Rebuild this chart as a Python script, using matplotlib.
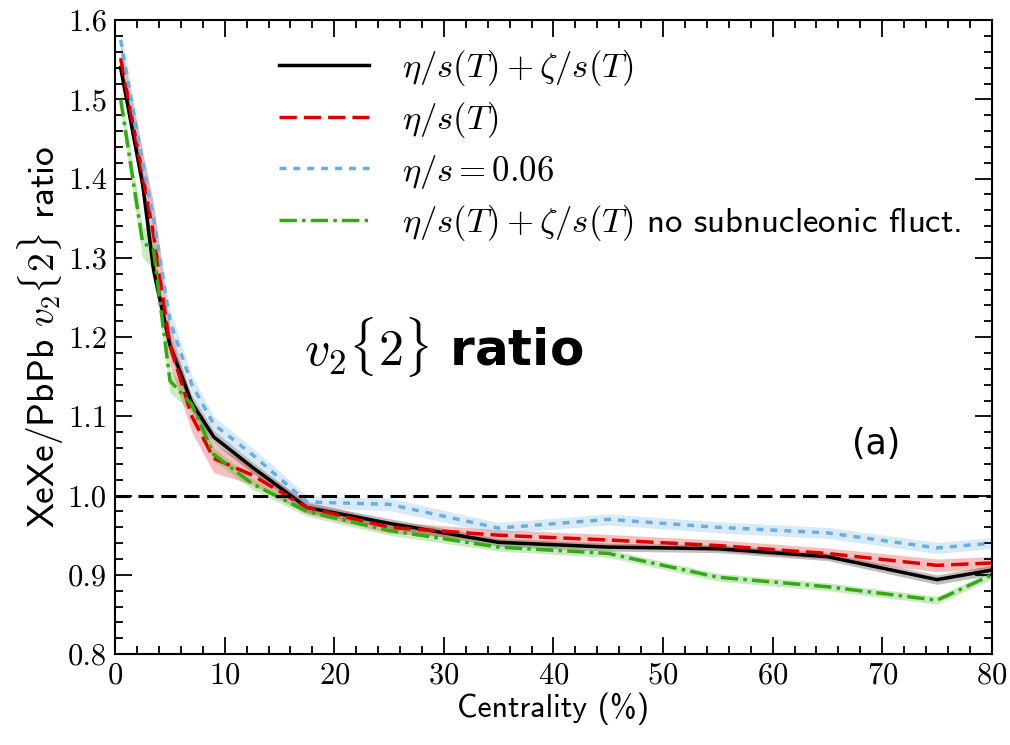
import matplotlib
matplotlib.use("Agg")
import matplotlib.pyplot as plt
import numpy as np

plt.rcParams['mathtext.fontset'] = 'cm'
plt.rcParams['axes.formatter.use_mathtext'] = True

# centrality (%)
cent = [0.5, 2.5, 3.5, 5, 7, 9, 12.5, 17.5, 25, 35, 45, 55, 65, 75, 80]

# XeXe/PbPb v2{2} ratio
full = [1.540, 1.394, 1.285, 1.190, 1.117, 1.074, 1.036, 0.985, 0.965, 0.941, 0.935, 0.933, 0.923, 0.894, 0.906]
full_err = [0.015, 0.015, 0.015, 0.012, 0.010, 0.008, 0.007, 0.006, 0.006, 0.005, 0.005, 0.005, 0.005, 0.006, 0.006]

shear_only = [1.552, 1.405, 1.330, 1.190, 1.100, 1.047, 1.026, 0.985, 0.960, 0.950, 0.944, 0.937, 0.927, 0.912, 0.915]
shear_only_err = [0.020, 0.030, 0.040, 0.025, 0.020, 0.018, 0.012, 0.008, 0.007, 0.007, 0.007, 0.007, 0.007, 0.008, 0.008]

const = [1.575, 1.420, 1.350, 1.220, 1.140, 1.090, 1.052, 0.992, 0.989, 0.959, 0.970, 0.960, 0.953, 0.934, 0.940]
const_err = [0.015, 0.015, 0.015, 0.015, 0.012, 0.010, 0.009, 0.008, 0.008, 0.007, 0.007, 0.007, 0.007, 0.007, 0.007]

nosub = [1.500, 1.320, 1.310, 1.145, 1.115, 1.052, 1.015, 0.980, 0.956, 0.935, 0.927, 0.897, 0.885, 0.868, 0.900]
nosub_err = [0.015, 0.020, 0.025, 0.015, 0.010, 0.008, 0.007, 0.006, 0.006, 0.005, 0.005, 0.005, 0.005, 0.005, 0.005]

series = [
    (full, full_err, 'black', '-', r'$\eta/s(T)+\zeta/s(T)$'),
    (shear_only, shear_only_err, '#dd0000', (0, (5, 2)), r'$\eta/s(T)$'),
    (const, const_err, '#6aaee0', (0, (2, 2)), r'$\eta/s=0.06$'),
    (nosub, nosub_err, '#33aa11', (0, (5, 1.5, 1, 1.5)),
     r'$\eta/s(T)+\zeta/s(T)$ no subnucleonic fluct.'),
]

fig = plt.figure(figsize=(10.1, 7.45), dpi=100)
ax = fig.add_axes([0.114, 0.122, 0.868, 0.851])

x = np.array(cent)
for vals, err, col, ls, lab in series:
    v = np.array(vals)
    e = np.array(err)
    ax.fill_between(x, v - e, v + e, color=col, alpha=0.25, lw=0)
    ax.plot(x, v, color=col, ls=ls, lw=2.5, label=lab)

ax.axhline(1.0, color='black', ls=(0, (5, 2.5)), lw=2.2)

ax.set_xlim(0, 80)
ax.set_ylim(0.8, 1.6)
ax.set_xticks(np.arange(0, 81, 10))
ax.set_xticks(np.arange(0, 81, 2), minor=True)
ax.set_yticks(np.arange(0.8, 1.61, 0.1))
ax.set_yticks(np.arange(0.8, 1.601, 0.02), minor=True)
ax.set_yticklabels([f"{t:.1f}" for t in np.arange(0.8, 1.61, 0.1)])
ax.tick_params(which='both', direction='in', top=True, right=True, width=1.3)
ax.tick_params(which='major', length=12, labelsize=22, pad=6)
ax.tick_params(which='minor', length=6)
for lbl in ax.get_xticklabels() + ax.get_yticklabels():
    lbl.set_family('cmr10')
for s in ax.spines.values():
    s.set_linewidth(1.5)

ax.set_xlabel('Centrality (%)', fontsize=23, family='cmss10', labelpad=2)
ax.set_ylabel(r'XeXe/PbPb $v_2\{2\}$ ratio', fontsize=27, family='cmss10', labelpad=2)

leg = ax.legend(loc='upper left', bbox_to_anchor=(0.151, 1.005), frameon=False,
                handlelength=2.6, handletextpad=0.95, labelspacing=0.35,
                prop={'family': 'cmss10', 'size': 25})

ax.text(0.215, 0.455, r'$\boldsymbol{v_2}\{2\}$ ratio', transform=ax.transAxes,
        fontsize=36, fontweight='bold', family='DejaVu Sans')
ax.text(0.84, 0.315, '(a)', transform=ax.transAxes, fontsize=25, family='DejaVu Sans')

fig.savefig('out.png', dpi=100)
